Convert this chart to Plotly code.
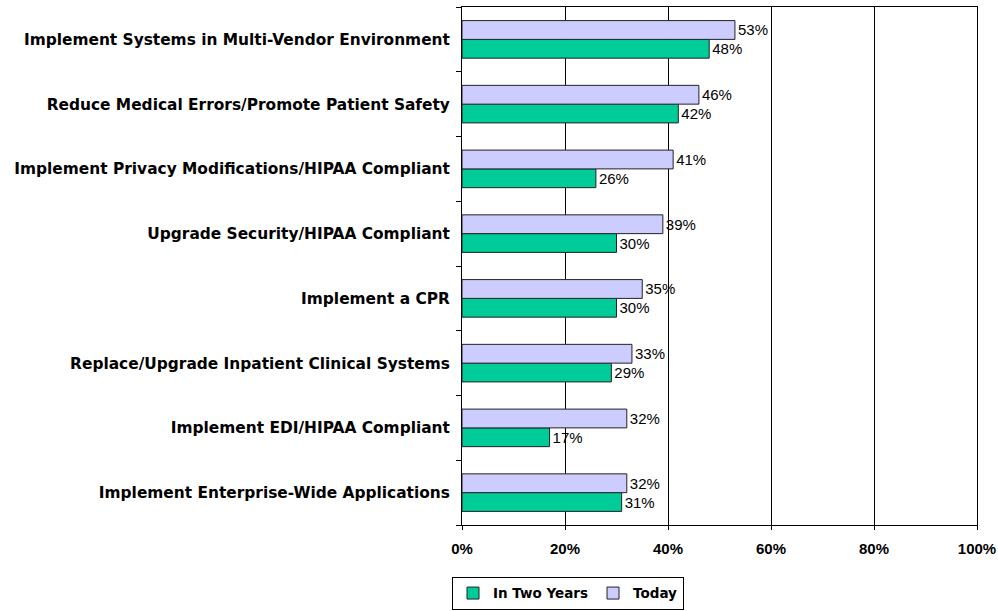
import plotly.graph_objects as go

categories = [
    'Implement Systems in Multi-Vendor Environment',
    'Reduce Medical Errors/Promote Patient Safety',
    'Implement Privacy Modifications/HIPAA Compliant',
    'Upgrade Security/HIPAA Compliant',
    'Implement a CPR',
    'Replace/Upgrade Inpatient Clinical Systems',
    'Implement EDI/HIPAA Compliant',
    'Implement Enterprise-Wide Applications',
]
today = [53, 46, 41, 39, 35, 33, 32, 32]
in_two_years = [48, 42, 26, 30, 30, 29, 17, 31]
x_ticks = [0, 20, 40, 60, 80, 100]

# bottom-to-top order so the first trace sits below the second in each group
cats = categories[::-1]
two = in_two_years[::-1]
tod = today[::-1]

wide = 'DejaVu Sans, Verdana, sans-serif'
narrow = 'Liberation Sans, Arial, sans-serif'

fig = go.Figure()
fig.add_trace(go.Bar(
    y=cats, x=two, orientation='h', name='<b>In Two Years</b>',
    marker=dict(color='#00CC99', line=dict(color='#222222', width=1)),
    text=[f'{v}%' for v in two], textposition='outside',
    textfont=dict(family=narrow, size=15, color='black'), cliponaxis=False,
))
fig.add_trace(go.Bar(
    y=cats, x=tod, orientation='h', name='<b>Today</b>',
    marker=dict(color='#CCCCFF', line=dict(color='#222222', width=1)),
    text=[f'{v}%' for v in tod], textposition='outside',
    textfont=dict(family=narrow, size=15, color='black'), cliponaxis=False,
))

fig.update_xaxes(
    range=[0, 100], tickvals=x_ticks, ticktext=[f'<b>{v}%</b>' for v in x_ticks],
    showgrid=True, gridcolor='black', gridwidth=1,
    showline=True, linecolor='black', linewidth=1, mirror=True,
    ticks='outside', ticklen=4, tickcolor='black',
    tickfont=dict(family=narrow, size=15, color='black'),
    zeroline=False, ticklabelstandoff=6,
)
fig.update_yaxes(
    tickson='boundaries', ticks='outside', ticklen=5, tickcolor='black',
    showline=True, linecolor='black', linewidth=1, mirror=True,
    ticktext=[f'<b>{c}</b>' for c in cats], tickvals=cats,
    tickfont=dict(family=wide, size=15.4, color='black'), showgrid=False,
    ticklabelstandoff=8,
)

fig.update_layout(
    width=998, height=611,
    barmode='group', bargap=0.42, bargroupgap=0,
    paper_bgcolor='white', plot_bgcolor='white',
    font=dict(family=narrow, color='black'),
    margin=dict(l=462, r=21, t=7, b=86, autoexpand=False),
    uniformtext=dict(minsize=15, mode='show'),
    legend=dict(
        orientation='h', x=-0.0194, y=-0.1, xanchor='left', yanchor='top',
        bordercolor='black', borderwidth=1, bgcolor='white',
        font=dict(family=wide, size=13.5, color='black'), traceorder='normal',
        itemwidth=30,
    ),
)

# drop the default body margin so the figure fills the window exactly
fig.write_html('out.html', config={'displayModeBar': False},
               post_script="document.body.style.margin='0px';")
